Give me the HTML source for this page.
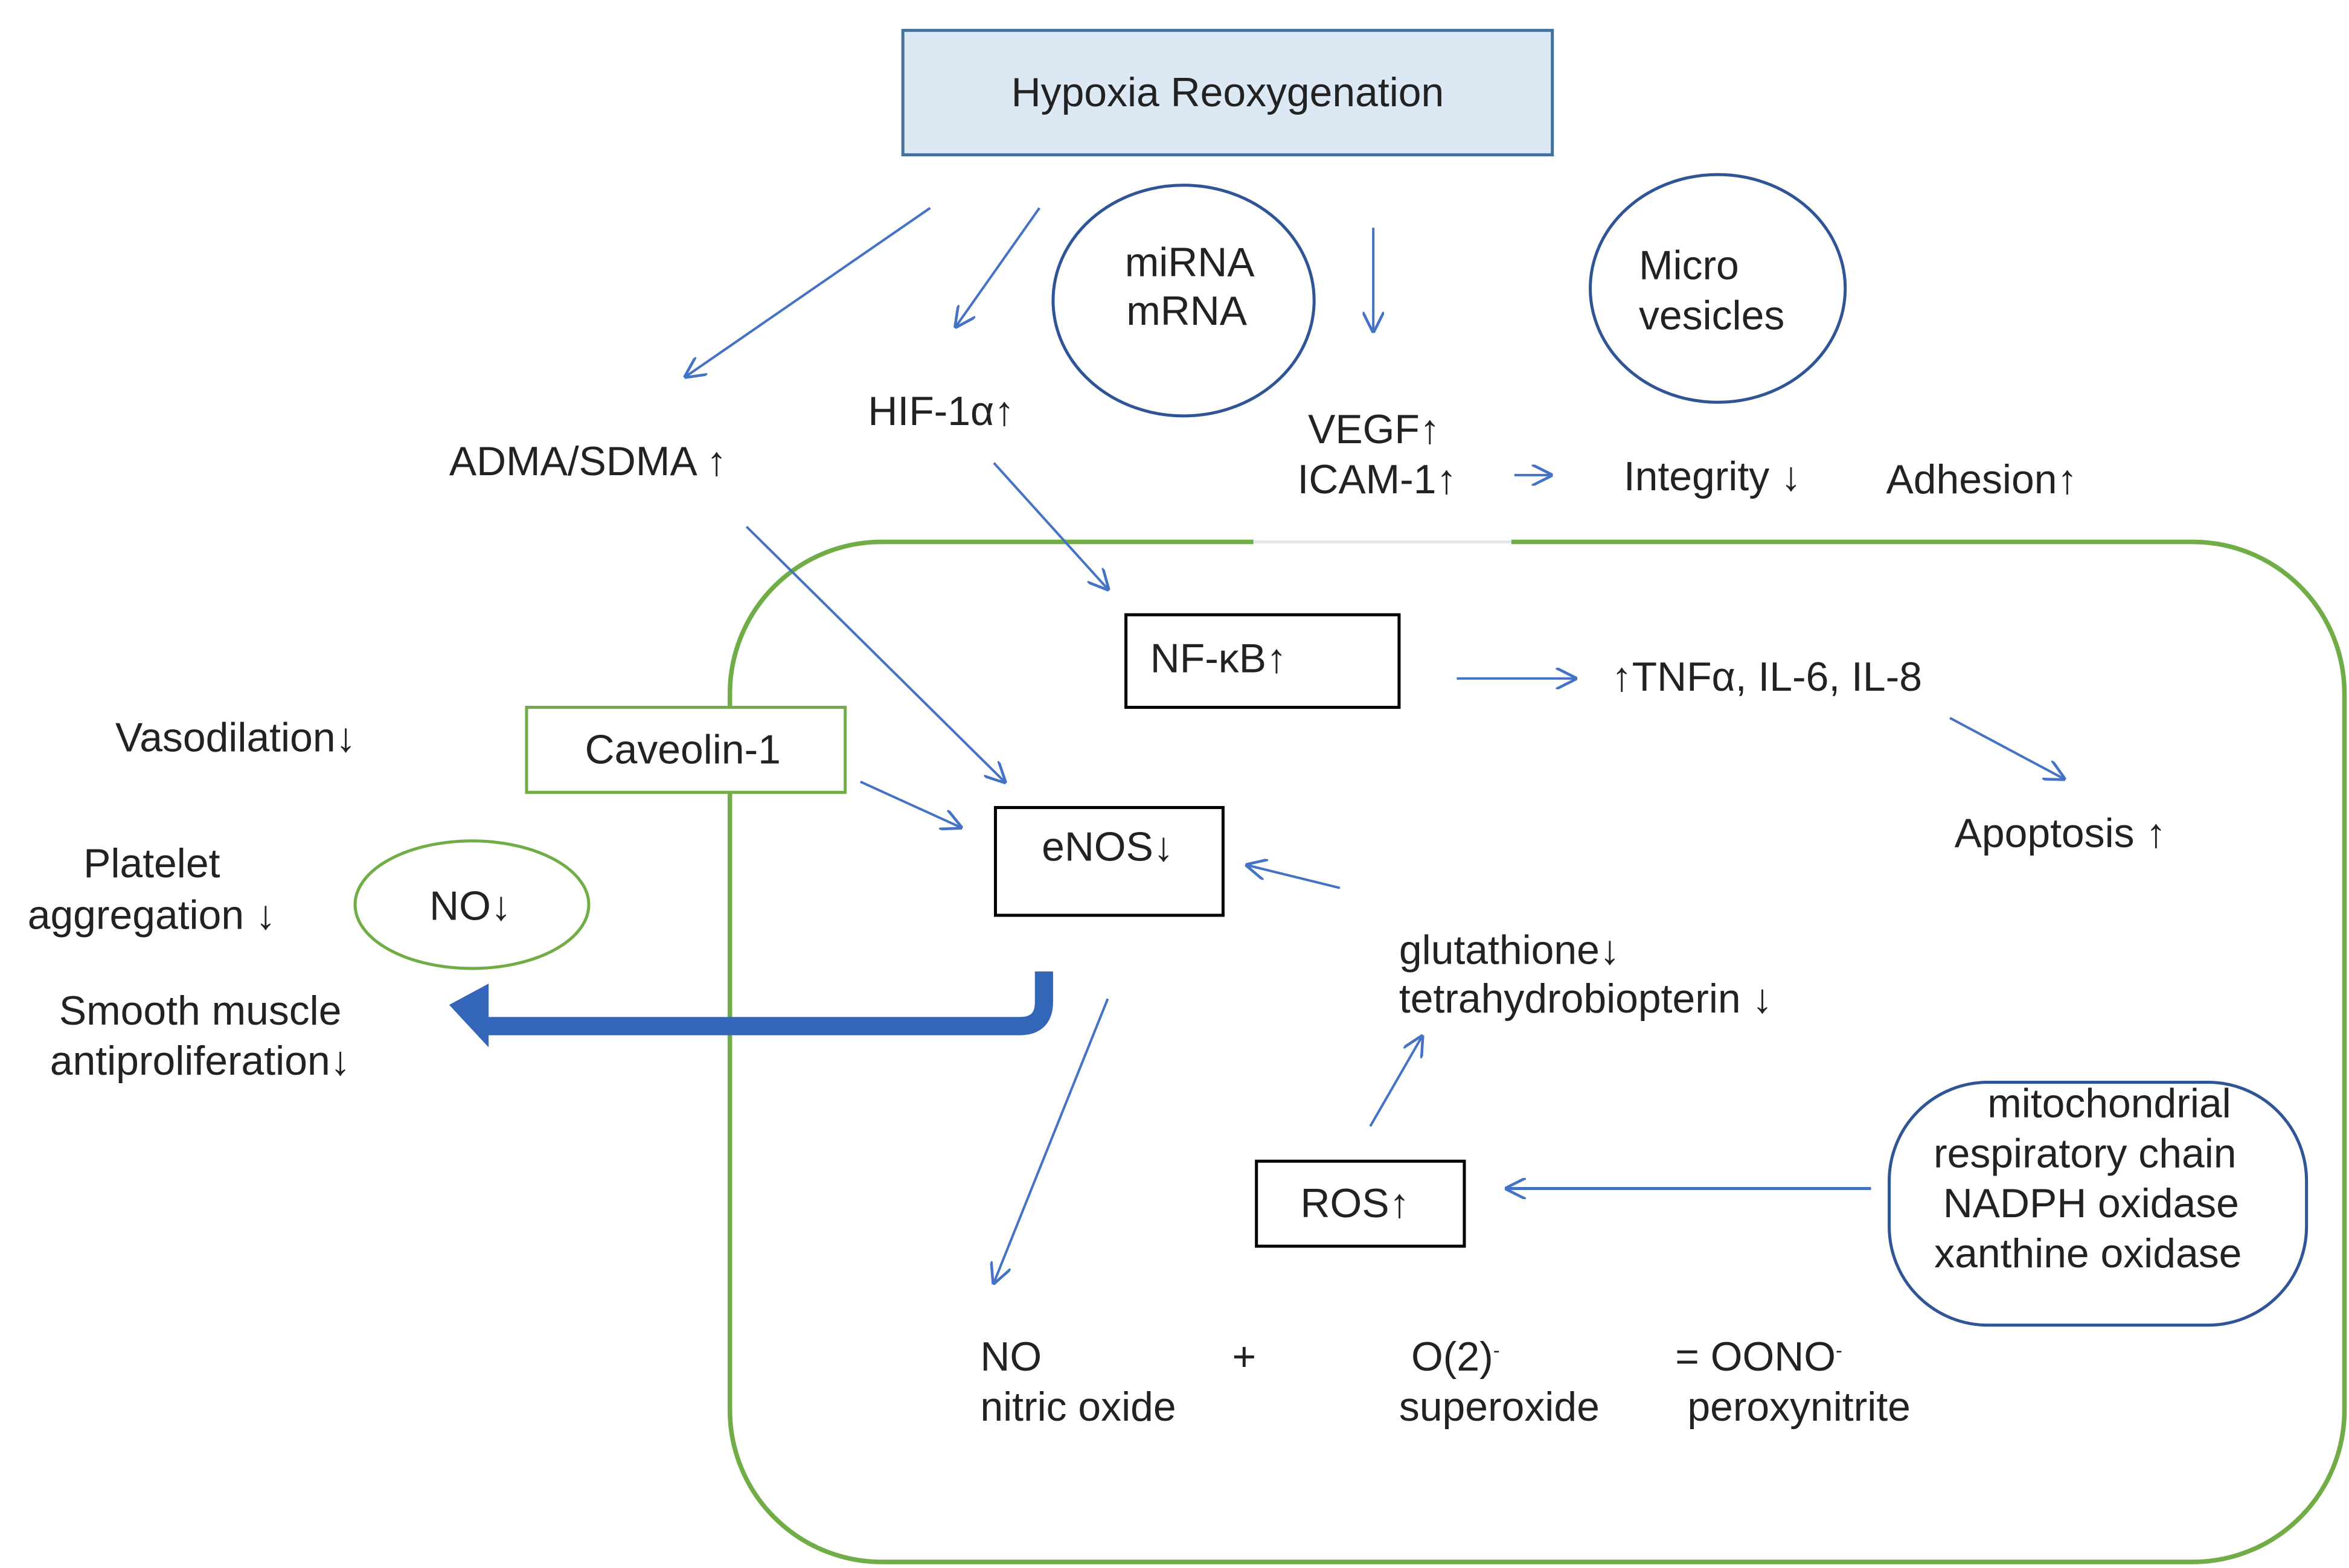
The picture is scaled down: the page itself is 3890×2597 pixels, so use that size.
<!DOCTYPE html>
<html><head><meta charset="utf-8"><style>
html,body{margin:0;padding:0;background:#fff;width:3890px;height:2597px;overflow:hidden}
svg{display:block}
text{font-family:"Liberation Sans",sans-serif;fill:#222;font-size:27px}
</style></head><body>
<svg width="3890" height="2597" viewBox="0 0 1548 1033" preserveAspectRatio="none" xmlns="http://www.w3.org/2000/svg">
<defs>
<marker id="a" viewBox="0 0 10 10" refX="9" refY="5" markerWidth="14" markerHeight="14" markerUnits="userSpaceOnUse" orient="auto"><path d="M0,0 L10,5 L0,10" fill="none" stroke="#4472c4" stroke-width="1.3"/></marker>
</defs>
<rect x="481" y="357" width="1064" height="672" rx="100" fill="none" stroke="#70ad47" stroke-width="3"/>
<rect x="826" y="350" width="170" height="14" fill="#fff"/>
<line x1="826" y1="357" x2="996" y2="357" stroke="#e6e6e6" stroke-width="2"/>
<rect x="595" y="20" width="428" height="82" fill="#dce9f5" stroke="#41719c" stroke-width="2"/>
<text x="809" y="70" text-anchor="middle">Hypoxia Reoxygenation</text>
<ellipse cx="780" cy="198" rx="86" ry="76" fill="none" stroke="#2f5597" stroke-width="2"/>
<text x="784" y="182" text-anchor="middle">miRNA</text>
<text x="782" y="214" text-anchor="middle">mRNA</text>
<ellipse cx="1132" cy="190" rx="84" ry="75" fill="none" stroke="#2f5597" stroke-width="2"/>
<text x="1080" y="184">Micro</text>
<text x="1080" y="217">vesicles</text>
<g stroke="#4472c4" stroke-width="1.6" fill="none" marker-end="url(#a)">
<line x1="613" y1="137" x2="452" y2="248"/>
<line x1="685" y1="137" x2="630" y2="215"/>
<line x1="905" y1="150" x2="905" y2="218"/>
<line x1="998" y1="313" x2="1022" y2="313"/>
<line x1="655" y1="305" x2="730" y2="388"/>
<line x1="492" y1="347" x2="662" y2="515"/>
<line x1="567" y1="515" x2="633" y2="545"/>
<line x1="960" y1="447" x2="1038" y2="447"/>
<line x1="1285" y1="473" x2="1360" y2="513"/>
<line x1="883" y1="585" x2="822" y2="570"/>
<line x1="903" y1="742" x2="937" y2="683"/>
<line x1="1233" y1="783" x2="993" y2="783" stroke-width="2"/>
<line x1="730" y1="658" x2="655" y2="845"/>
</g>
<text x="296" y="313">ADMA/SDMA ↑</text>
<text x="572" y="280">HIF-1α↑</text>
<text x="862" y="292">VEGF↑</text>
<text x="855" y="325">ICAM-1↑</text>
<text x="1070" y="323">Integrity ↓</text>
<text x="1243" y="325">Adhesion↑</text>
<rect x="742" y="405" width="180" height="61" fill="#fff" stroke="#000" stroke-width="2"/>
<text x="758" y="443">NF-κB↑</text>
<rect x="347" y="466" width="210" height="56" fill="#fff" stroke="#70ad47" stroke-width="2"/>
<text x="450" y="503" text-anchor="middle">Caveolin-1</text>
<rect x="656" y="532" width="150" height="71" fill="#fff" stroke="#000" stroke-width="2"/>
<text x="730" y="567" text-anchor="middle">eNOS↓</text>
<rect x="828" y="765" width="137" height="56" fill="#fff" stroke="#000" stroke-width="2"/>
<text x="893" y="802" text-anchor="middle">ROS↑</text>
<text x="1062" y="455">↑TNFα, IL-6, IL-8</text>
<text x="1288" y="558">Apoptosis ↑</text>
<text x="76" y="495">Vasodilation↓</text>
<text x="100" y="578" text-anchor="middle">Platelet</text>
<text x="100" y="612" text-anchor="middle">aggregation ↓</text>
<text x="132" y="675" text-anchor="middle">Smooth muscle</text>
<text x="132" y="708" text-anchor="middle">antiproliferation↓</text>
<ellipse cx="311" cy="596" rx="77" ry="42" fill="none" stroke="#70ad47" stroke-width="2"/>
<text x="310" y="606" text-anchor="middle">NO↓</text>
<path d="M688,640 L688,660 Q688,676 672,676 L318,676" fill="none" stroke="#3366b8" stroke-width="12"/>
<polygon points="296,662 322,648 322,690" fill="#3366b8"/>
<text x="922" y="635" font-size="25">glutathione↓</text>
<text x="922" y="667" font-size="25">tetrahydrobiopterin ↓</text>
<rect x="1245" y="713" width="275" height="160" rx="65" fill="none" stroke="#2f5597" stroke-width="2"/>
<g font-size="24" text-anchor="middle">
<text x="1390" y="736">mitochondrial</text>
<text x="1374" y="769">respiratory chain</text>
<text x="1378" y="802">NADPH oxidase</text>
<text x="1376" y="835">xanthine oxidase</text>
</g>
<g font-size="25">
<text x="646" y="903">NO</text>
<text x="646" y="936">nitric oxide</text>
<text x="812" y="903">+</text>
<text x="930" y="903">O(2)<tspan font-size="13" dy="-9">-</tspan></text>
<text x="922" y="936">superoxide</text>
<text x="1104" y="903">=  OONO<tspan font-size="13" dy="-9">-</tspan></text>
<text x="1112" y="936">peroxynitrite</text>
</g>
</svg>
</body></html>
